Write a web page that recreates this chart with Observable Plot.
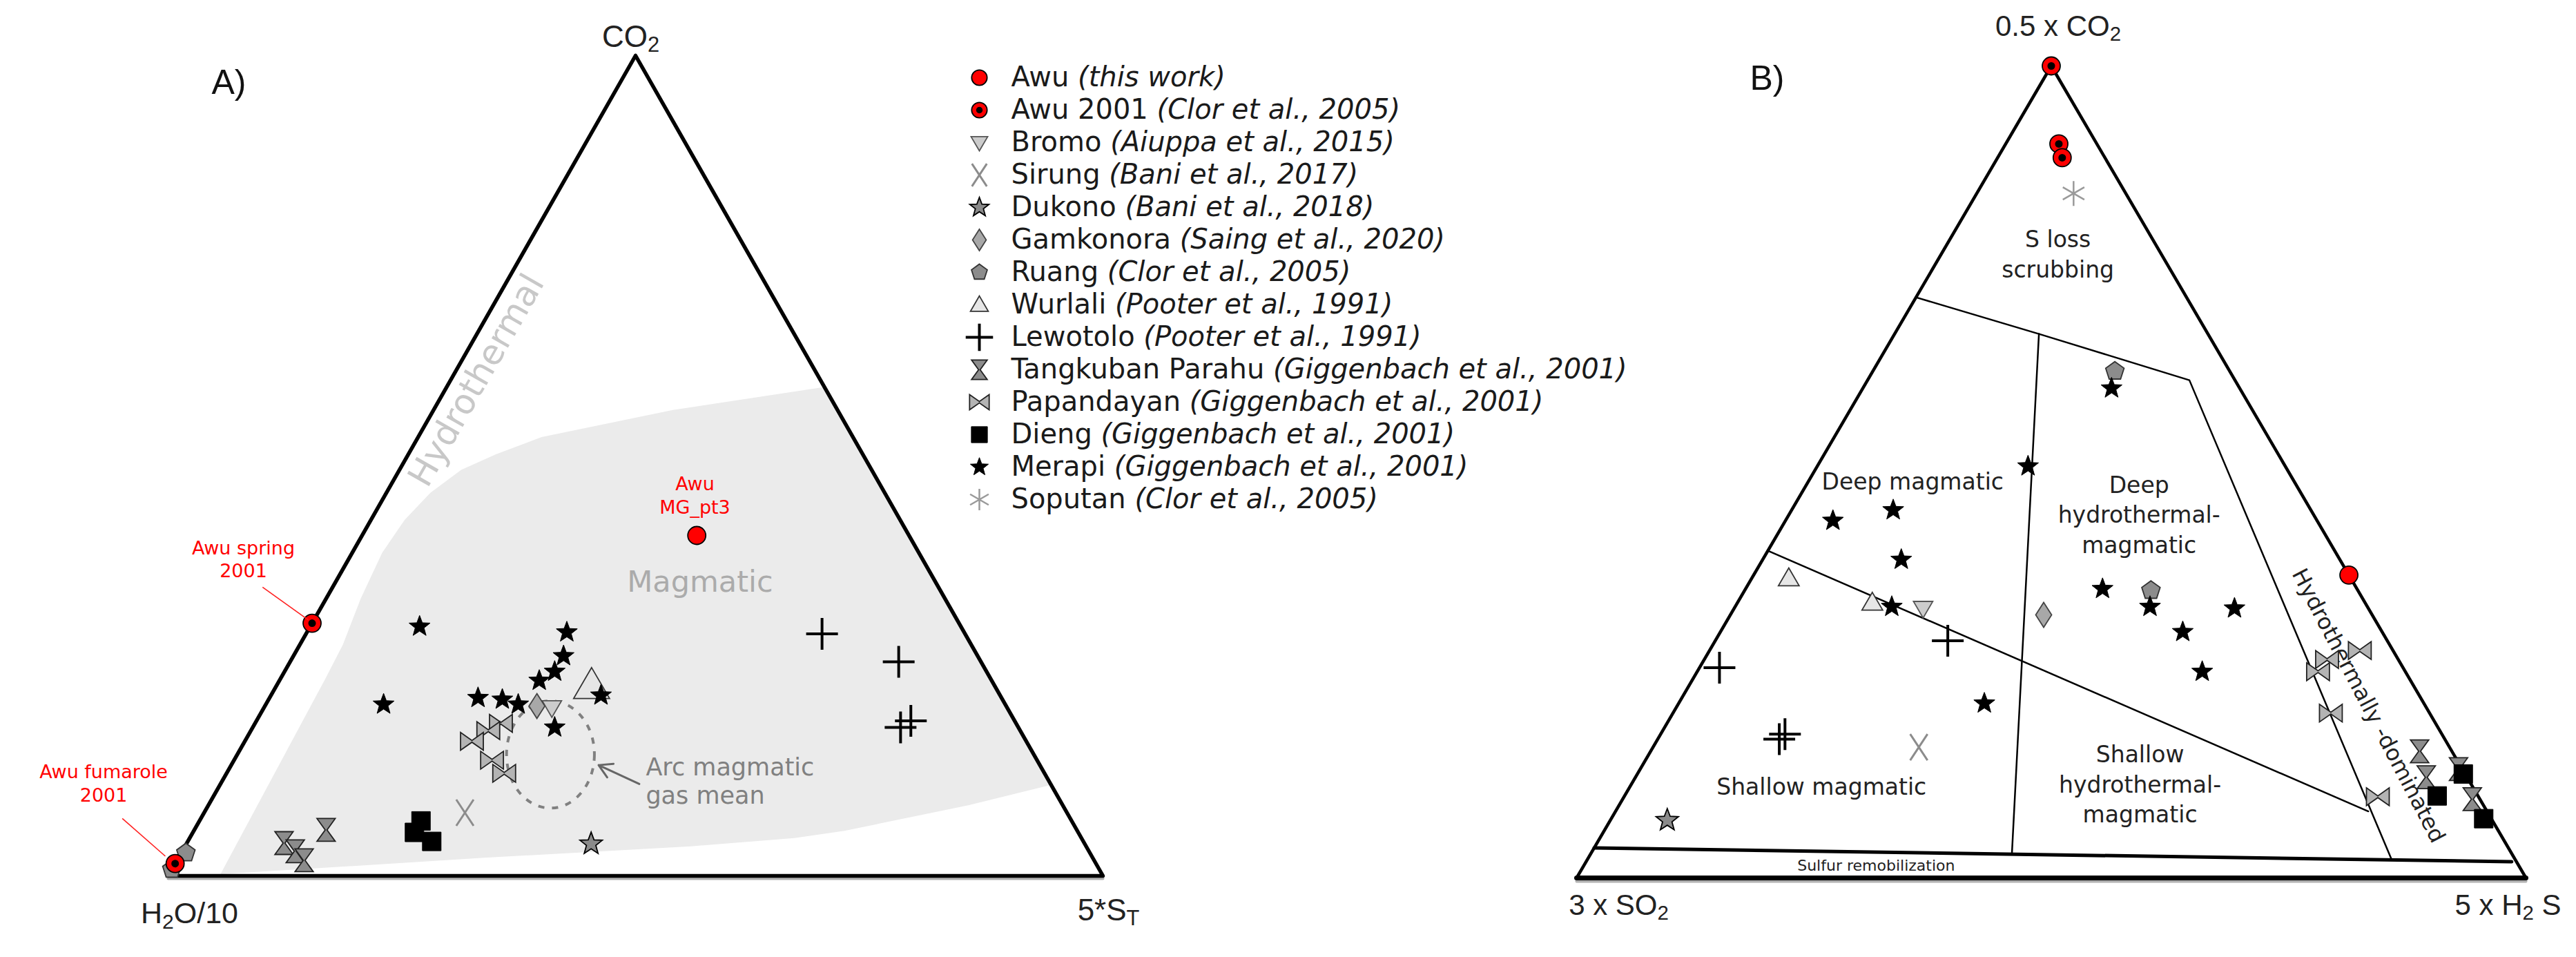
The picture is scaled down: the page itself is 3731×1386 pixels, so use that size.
<!DOCTYPE html>
<html><head><meta charset="utf-8">
<script src="https://cdn.jsdelivr.net/npm/d3@7"></script>
<script src="https://cdn.jsdelivr.net/npm/@observablehq/plot@0.6"></script>
<style>
html,body{margin:0;padding:0;background:#fff;}
#wrap{position:relative;width:3731px;height:1386px;overflow:hidden;background:#fff;}
#wrap svg{position:absolute;left:0;top:0;}
</style></head><body><div id="wrap"></div>
<script>
// ---------------- DATA (ternary percentages) ----------------
const groups = ["Awu","Awu 2001","Bromo","Sirung","Dukono","Gamkonora","Ruang","Wurlali","Lewotolo","Tangkuban Parahu","Papandayan","Dieng","Merapi","Soputan"];
const citations = ["(this work)","(Clor et al., 2005)","(Aiuppa et al., 2015)","(Bani et al., 2017)","(Bani et al., 2018)","(Saing et al., 2020)","(Clor et al., 2005)","(Pooter et al., 1991)","(Pooter et al., 1991)","(Giggenbach et al., 2001)","(Giggenbach et al., 2001)","(Giggenbach et al., 2001)","(Giggenbach et al., 2001)","(Clor et al., 2005)"];

// Panel A: [CO2 %, 5*ST %]  (H2O/10 = remainder)
const awuA        = [[41.5, 35.8]];
const awu2001A    = [[30.8, 0], [1.5, 0]];
const bromoA      = [[20.5, 30.8]];
const sirungA     = [[7.7, 27.9]];
const dukonoA     = [[3.9, 43.3]];
const gamkonoraA  = [[20.7, 29.1]];
const ruangA      = [[2.8, 0.5], [0.8, 0]];
const wurlaliA    = [[23.2, 33.7]];
const lewotoloA   = [[29.5, 55.2], [26.1, 65.1], [18.1, 69.3], [18.9, 70.0]];
const tangkubanA  = [[5.6, 14.1], [4.0, 10.4], [3.0, 12.1], [1.9, 13.6]];
const papandayanA = [[18.6, 26.3], [17.7, 25.4], [16.4, 24.3], [14.1, 27.6], [12.5, 29.7]];
const diengA      = [[6.7, 23.7], [5.3, 23.7], [4.2, 26.1]];
const merapiA     = [[30.4, 11.7], [26.8, 28.9], [29.7, 27.8], [24.9, 28.9], [23.8, 27.8], [20.9, 12.6], [21.7, 22.3], [21.5, 25.0], [20.9, 27.0], [18.1, 32.3], [22.0, 35.3]];
const soputanA    = [];
const magmaticFieldA = [[59.6,40.4],[56.8,25.6],[53.5,13.2],[51.4,9.4],[49.5,6.6],[46.7,4.7],[43.4,3.6],[39.4,3.2],[33.8,3.7],[28.2,4.6],[24.0,4.8],[0.2,5.5],[2.2,32.7],[3.6,54.1],[4.6,64.7],[5.5,69.6],[8.6,81.3],[11.1,88.9]];
const arcMeanA = [14.8, 33.5];

// Panel B: [0.5xCO2 %, 5xH2S %]  (3xSO2 = remainder)
const awuB        = [[37.3, 62.7]];
const awu2001B    = [[100, 0], [90.4, 5.6], [88.7, 6.8]];
const bromoB      = [[33.2, 19.9]];
const sirungB     = [[16.1, 28.0]];
const dukonoB     = [[7.1, 6.0]];
const gamkonoraB  = [[32.4, 33.0]];
const ruangB      = [[62.4, 25.5], [35.4, 42.8]];
const wurlaliB    = [[36.9, 3.9], [33.9, 14.2]];
const lewotoloB   = [[29.2, 24.5], [25.9, 2.1], [17.1, 12.8], [17.7, 13.1]];
const tangkubanB  = [[15.6, 81.0], [12.4, 83.3], [13.4, 86.2], [9.7, 89.5]];
const papandayanB = [[28.0, 68.5], [26.9, 65.6], [25.4, 65.4], [20.3, 69.3], [10.0, 79.4]];
const diengB      = [[10.1, 85.6], [12.8, 87.0], [7.3, 91.9]];
const merapiB     = [[60.3, 26.2], [50.7, 22.2], [45.3, 10.7], [44.0, 5.0], [39.2, 14.6], [33.4, 16.5], [35.6, 37.6], [33.4, 43.7], [33.2, 52.7], [30.3, 48.7], [21.5, 32.2], [25.4, 53.2]];
const soputanB    = [[84.3, 10.2]];
const fieldLinesB = [
  [[71.5, 0], [67.0, 15.2], [61.3, 33.9], [2.4, 84.6]],
  [[67.0, 15.2], [2.9, 44.4]],
  [[40.3, 0], [8.2, 79.3]]
];
const sulfurLineB = [[3.7, 0], [2.0, 97.5]];

// ---------------- helpers ----------------
const H = Math.sqrt(3) / 2;
const tern = ([co2, right]) => ({x: right / 100 + co2 / 200, y: (co2 / 100) * H});
const at = (co2, right, extra = {}) => ({...tern([co2, right]), ...extra});
const W = 3731, HT = 1386;
const FF = "DejaVu Sans", FA = "Liberation Sans, Arial, sans-serif";
const SVGSTYLE = "background: transparent; max-width: none; overflow: visible;";

const S = f => ({draw(ctx, size) { const r = Math.sqrt(size / Math.PI); f(ctx, r); }});
const poly = (c, pts) => { c.moveTo(pts[0][0], pts[0][1]); for (let i = 1; i < pts.length; i++) c.lineTo(pts[i][0], pts[i][1]); c.closePath(); };
const SYM = {
  circle: S((c, r) => { c.moveTo(r, 0); c.arc(0, 0, r, 0, 2 * Math.PI); }),
  triDown: S((c, r) => poly(c, [[-r, -0.72 * r], [r, -0.72 * r], [0, r]])),
  triUp: S((c, r) => poly(c, [[0, -r], [r, 0.72 * r], [-r, 0.72 * r]])),
  xmark: S((c, r) => { c.moveTo(-0.66 * r, -r); c.lineTo(0.66 * r, r); c.moveTo(0.66 * r, -r); c.lineTo(-0.66 * r, r); }),
  star: S((c, r) => { const p = []; for (let i = 0; i < 10; i++) { const a = -Math.PI / 2 + i * Math.PI / 5, rr = i % 2 ? r * 0.42 : r; p.push([rr * Math.cos(a), rr * Math.sin(a)]); } poly(c, p); }),
  diamond: S((c, r) => poly(c, [[0, -r], [0.64 * r, 0], [0, r], [-0.64 * r, 0]])),
  pentagon: S((c, r) => { const p = []; for (let i = 0; i < 5; i++) { const a = -Math.PI / 2 + i * 2 * Math.PI / 5; p.push([r * Math.cos(a), r * Math.sin(a)]); } poly(c, p); }),
  plus: S((c, r) => { c.moveTo(-r, 0); c.lineTo(r, 0); c.moveTo(0, -r); c.lineTo(0, r); }),
  hourglass: S((c, r) => { const a = 0.8 * r, w = 0.1 * a; poly(c, [[-a, -r], [a, -r], [w, 0], [a, r], [-a, r], [-w, 0]]); }),
  bowtie: S((c, r) => { const a = 0.78 * r, w = 0.1 * a; poly(c, [[-r, -a], [0, -w], [r, -a], [r, a], [0, w], [-r, a]]); }),
  square: S((c, r) => { c.rect(-r, -r, 2 * r, 2 * r); }),
  asterisk: S((c, r) => { for (const d of [90, 30, 150]) { const t = d * Math.PI / 180; c.moveTo(r * Math.cos(t), r * Math.sin(t)); c.lineTo(-r * Math.cos(t), -r * Math.sin(t)); } }),
  ellipse: S((c, r) => { const rx = 0.86 * r, ry = 1.05 * r, k = 0.5523; c.moveTo(rx, 0); c.bezierCurveTo(rx, k * ry, k * rx, ry, 0, ry); c.bezierCurveTo(-k * rx, ry, -rx, k * ry, -rx, 0); c.bezierCurveTo(-rx, -k * ry, -k * rx, -ry, 0, -ry); c.bezierCurveTo(k * rx, -ry, rx, -k * ry, rx, 0); c.closePath(); })
};

const STYLE = {
  "Awu":              {symbol: "circle",   r: 13, fill: "#ff0000", stroke: "#000", sw: 1.8},
  "Awu 2001":         {symbol: "circle",   r: 13, fill: "#ff0000", stroke: "#000", sw: 1.8, inner: 5.5},
  "Bromo":            {symbol: "triDown",  r: 14, fill: "#cccccc", stroke: "#555", sw: 1.8},
  "Sirung":           {symbol: "xmark",    r: 19, fill: "none",    stroke: "#8c8c8c", sw: 3},
  "Dukono":           {symbol: "star",     r: 17, fill: "#8a8a8a", stroke: "#000", sw: 1.8},
  "Gamkonora":        {symbol: "diamond",  r: 18, fill: "#a8a8a8", stroke: "#444", sw: 1.8},
  "Ruang":            {symbol: "pentagon", r: 14, fill: "#8c8c8c", stroke: "#333", sw: 1.8},
  "Wurlali":          {symbol: "triUp",    r: 15, fill: "#e6e6e6", stroke: "#333", sw: 1.8},
  "Lewotolo":         {symbol: "plus",     r: 23, fill: "none",    stroke: "#000", sw: 4},
  "Tangkuban Parahu": {symbol: "hourglass",r: 16.5, fill: "#8c8c8c", stroke: "#222", sw: 1.8},
  "Papandayan":       {symbol: "bowtie",   r: 16.5, fill: "#b4b4b4", stroke: "#222", sw: 1.8},
  "Dieng":            {symbol: "square",   r: 13.5, fill: "#000",  stroke: "#000", sw: 1},
  "Merapi":           {symbol: "star",     r: 16, fill: "#000",    stroke: "#000", sw: 1},
  "Soputan":          {symbol: "asterisk", r: 18, fill: "none",    stroke: "#9a9a9a", sw: 2.5}
};
const drawOrder = ["Ruang","Wurlali","Lewotolo","Tangkuban Parahu","Papandayan","Dieng","Sirung","Dukono","Bromo","Gamkonora","Merapi","Soputan","Awu 2001","Awu"];
const dataA = {"Awu": awuA, "Awu 2001": awu2001A, "Bromo": bromoA, "Sirung": sirungA, "Dukono": dukonoA, "Gamkonora": gamkonoraA, "Ruang": ruangA, "Wurlali": wurlaliA, "Lewotolo": lewotoloA, "Tangkuban Parahu": tangkubanA, "Papandayan": papandayanA, "Dieng": diengA, "Merapi": merapiA, "Soputan": soputanA};
const dataB = {"Awu": awuB, "Awu 2001": awu2001B, "Bromo": bromoB, "Sirung": sirungB, "Dukono": dukonoB, "Gamkonora": gamkonoraB, "Ruang": ruangB, "Wurlali": wurlaliB, "Lewotolo": lewotoloB, "Tangkuban Parahu": tangkubanB, "Papandayan": papandayanB, "Dieng": diengB, "Merapi": merapiB, "Soputan": soputanB};

function dotMarks(data, st, k = 1, rOverride) {
  const r = (rOverride || st.r) * k;
  const m = [Plot.dot(data, {x: "x", y: "y", symbol: SYM[st.symbol], r, fill: st.fill, stroke: st.stroke, strokeWidth: st.sw})];
  if (st.inner) m.push(Plot.dot(data, {x: "x", y: "y", symbol: SYM.circle, r: st.inner * k, fill: "#000"}));
  return m;
}
function groupMarks(dataMap, rMap = {}) {
  return drawOrder.flatMap(g => dataMap[g].length ? dotMarks(dataMap[g].map(tern), STYLE[g], 1, rMap[g]) : []);
}
const corners = [[0, 0], [0, 100], [100, 0]].map(tern);

function richify(svg) {
  for (const t of svg.querySelectorAll("text")) {
    if (t.children.length) continue;
    const s = t.textContent;
    if (!/[~{]/.test(s)) continue;
    t.textContent = "";
    t.style.whiteSpace = "pre";
    const re = /~(.)|\{([^}]*)\}/g;
    let last = 0, shifted = false, m;
    const add = (txt, o = {}) => {
      const ts = document.createElementNS("http://www.w3.org/2000/svg", "tspan");
      ts.textContent = txt;
      for (const k in o) ts.setAttribute(k, o[k]);
      t.appendChild(ts);
    };
    while ((m = re.exec(s))) {
      if (m.index > last) { add(s.slice(last, m.index), shifted ? {dy: "-0.175em"} : {}); shifted = false; }
      if (m[1] !== undefined) { add(m[1], {"font-size": "70%", dy: "0.25em"}); shifted = true; }
      else add(m[2], {"font-style": "italic"});
      last = re.lastIndex;
    }
    if (last < s.length) add(s.slice(last), shifted ? {dy: "-0.175em"} : {});
  }
}

// ---------------- Panel A ----------------
const plotA = Plot.plot({
  width: W, height: HT, margin: 0, style: SVGSTYLE,
  x: {domain: [0, 1], range: [243, 1597], axis: null},
  y: {domain: [0, H], range: [1268, 80], axis: null},
  marks: [
    Plot.line(magmaticFieldA.map(tern), {x: "x", y: "y", curve: "linear-closed", fill: "#ebebeb", stroke: "none"}),
    Plot.text([at(60.4, 2.8, {label: "Hydrothermal"})], {x: "x", y: "y", text: "label", rotate: -60.3, fontSize: 50, fill: "#c8c8c8", fontFamily: FF}),
    Plot.text([at(35.8, 39.0, {label: "Magmatic"})], {x: "x", y: "y", text: "label", fontSize: 43, fill: "#ababab", fontFamily: FF}),
    Plot.line([corners[0], corners[1]], {x: "x", y: "y", stroke: "#b0b0b0", strokeWidth: 4, dy: 4}),
    Plot.line(corners, {x: "x", y: "y", curve: "linear-closed", stroke: "#000", strokeWidth: 5.5}),
    Plot.dot([tern(arcMeanA)], {x: "x", y: "y", symbol: SYM.ellipse, r: 74, fill: "none", stroke: "#808080", strokeWidth: 4, strokeDasharray: "9,11"}),
    Plot.arrow([{a: tern([11.2, 44.8]), b: tern([13.5, 39.3])}], {x1: d => d.a.x, y1: d => d.a.y, x2: d => d.b.x, y2: d => d.b.y, stroke: "#666", strokeWidth: 3, headLength: 22}),
    Plot.text([at(11.6, 45.3, {label: "Arc magmatic\ngas mean"})], {x: "x", y: "y", text: "label", textAnchor: "start", fontSize: 35, lineHeight: 1.16, fill: "#808080", fontFamily: FF}),
    ...groupMarks(dataA, {"Wurlali": 26}),
    Plot.link([{a: tern([35.2, -7.5]), b: tern([31.2, -0.6])}, {a: tern([7.0, -8.4]), b: tern([2.4, -1.5])}],
      {x1: d => d.a.x, y1: d => d.a.y, x2: d => d.b.x, y2: d => d.b.y, stroke: "#ff2020", strokeWidth: 1.6}),
    Plot.text([at(46.5, 33.1, {label: "Awu\nMG_pt3"}), at(38.7, -11.3, {label: "Awu spring\n2001"}), at(11.4, -12.6, {label: "Awu fumarole\n2001"})],
      {x: "x", y: "y", text: "label", fontSize: 27, lineHeight: 1.25, fill: "#ff0000", fontFamily: FF}),
    Plot.text([corners[2]], {x: "x", y: "y", text: () => "CO~2", dx: -7, dy: -27, fontSize: 44, fill: "#222", fontFamily: FA}),
    Plot.text([corners[0]], {x: "x", y: "y", text: () => "H~2O/10", dx: 31, dy: 55, fontSize: 43, fill: "#222", fontFamily: FA}),
    Plot.text([corners[1]], {x: "x", y: "y", text: () => "5*S~T", dx: 8, dy: 50, fontSize: 44, fill: "#222", fontFamily: FA}),
    Plot.text(["A)"], {frameAnchor: "top-left", text: d => d, dx: 306, dy: 100, fontSize: 50, fill: "#111", fontFamily: FA})
  ]
});

// ---------------- Panel B ----------------
const labB = [
  at(77.0, 12.2, {label: "S loss\nscrubbing"}),
  at(49.0, 10.9, {label: "Deep magmatic"}),
  at(44.9, 36.8, {label: "Deep\nhydrothermal-\nmagmatic"}),
  at(11.4, 20.1, {label: "Shallow magmatic"}),
  at(11.7, 53.5, {label: "Shallow\nhydrothermal-\nmagmatic"})
];
const plotB = Plot.plot({
  width: W, height: HT, margin: 0, style: SVGSTYLE,
  x: {domain: [0, 1], range: [2283, 3658], axis: null},
  y: {domain: [0, H], range: [1271, 95], axis: null},
  marks: [
    ...fieldLinesB.map(l => Plot.line(l.map(tern), {x: "x", y: "y", stroke: "#000", strokeWidth: 2.5})),
    Plot.line(sulfurLineB.map(tern), {x: "x", y: "y", stroke: "#000", strokeWidth: 5}),
    Plot.line([corners[0], corners[1]], {x: "x", y: "y", stroke: "#b0b0b0", strokeWidth: 4, dy: 5}),
    Plot.line([corners[0], corners[1]], {x: "x", y: "y", stroke: "#000", strokeWidth: 7}),
    Plot.line(corners, {x: "x", y: "y", curve: "linear-closed", stroke: "#000", strokeWidth: 4.5}),
    Plot.text(labB, {x: "x", y: "y", text: "label", fontSize: 33, lineHeight: 1.32, fill: "#222", fontFamily: FF}),
    Plot.text([at(1.5, 30.8, {label: "Sulfur remobilization"})], {x: "x", y: "y", text: "label", fontSize: 22, fill: "#222", fontFamily: FF}),
    Plot.text([at(21.2, 72.8, {label: "Hydrothermally -dominated"})], {x: "x", y: "y", text: "label", rotate: 62.5, fontSize: 32, fill: "#222", fontFamily: FF}),
    ...groupMarks(dataB),
    Plot.text([corners[2]], {x: "x", y: "y", text: () => "0.5 x CO~2", dx: 10, dy: -57, fontSize: 42, fill: "#222", fontFamily: FA}),
    Plot.text([corners[0]], {x: "x", y: "y", text: () => "3 x SO~2", dx: 61, dy: 40, fontSize: 42, fill: "#222", fontFamily: FA}),
    Plot.text([corners[1]], {x: "x", y: "y", text: () => "5 x H~2 S", dx: -26, dy: 40, fontSize: 42, fill: "#222", fontFamily: FA}),
    Plot.text(["B)"], {frameAnchor: "top-left", text: d => d, dx: 2534, dy: 94, fontSize: 50, fill: "#111", fontFamily: FA})
  ]
});

// ---------------- Legend ----------------
const plotL = Plot.plot({
  width: W, height: HT, margin: 0, style: SVGSTYLE,
  x: {domain: [0, 1], range: [1418, 1464], axis: null},
  y: {type: "point", domain: groups, range: [112, 723], padding: 0, axis: null},
  marks: [
    ...groups.flatMap(g => dotMarks([{x: 0, y: g}], STYLE[g], 0.86)),
    Plot.text(groups.map((g, i) => ({x: 1, y: g, label: `${g} {${citations[i]}}`})),
      {x: "x", y: "y", text: "label", textAnchor: "start", fontSize: 40, fill: "#1a1a1a", fontFamily: FF})
  ]
});

const wrap = document.getElementById("wrap");
for (const p of [plotA, plotB, plotL]) { wrap.appendChild(p); richify(p); }
</script></body></html>
